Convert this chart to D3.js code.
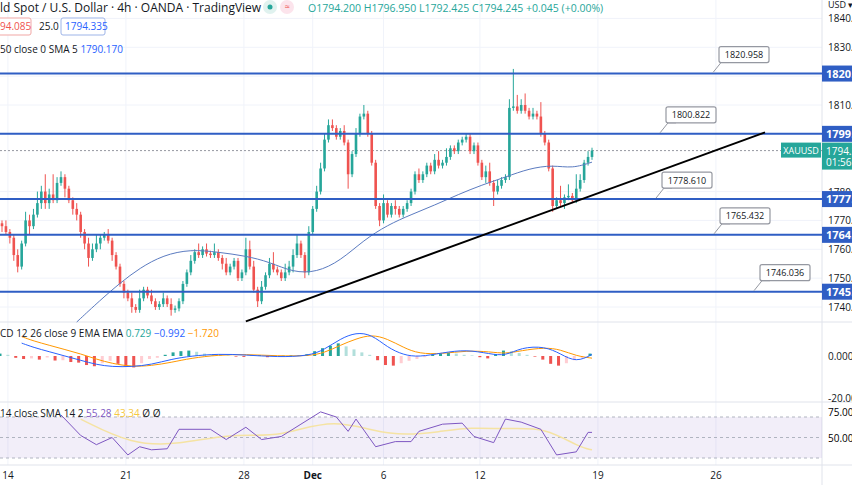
<!DOCTYPE html>
<html><head><meta charset="utf-8">
<script src="https://cdn.jsdelivr.net/npm/d3@7"></script>
<style>body{margin:0;background:#fff;font-family:"Open Sans",Roboto,sans-serif}</style>
</head><body><svg id="c" width="852" height="485"></svg>
<script>
// ---- data ----
const closes=[1768,1766,1764,1758,1754,1762,1770,1768,1772,1776,1780,1776,1779,1777,1783,1785,1781,1777,1774,1772,
1766,1762,1757,1760,1762,1764,1765,1763,1758,1754,1748,1745,1743,1740,1739,1743,1746,1744,1742,1740,
1741,1743,1741,1739,1739.5,1742,1748,1752,1756,1759,1758,1760,1758.5,1758,1759,1757,1755,1752,1754,1756,
1750,1752,1760,1754,1746,1742,1747,1751,1755,1753,1752,1750,1752,1754,1758,1762,1758,1752,1766,1774,
1780,1788,1798,1803,1802,1799,1801,1797,1786,1793,1800,1806,1807,1800,1790,1775,1770,1776,1772,1775,
1774,1772,1774,1776,1780,1786,1784,1786,1789,1787,1791,1789,1790,1792,1795,1794,1797,1798,1799,1794,
1796,1790,1785,1787,1783,1780,1782,1784,1785,1809,1809.5,1808,1810,1808,1806,1807,1806,1800,1797,1788,
1775,1777,1776,1778,1778.5,1777,1781,1784,1790,1792,1794.2];
const upWick=[1,2,1,1,2,1,3,2,2,4,2,6,2,7,2,2,1,1,1,2,1,1,2,2,3,1,1,2,1,1,1,1,1,2,1,3,1,1,2,1,
1,2,1,2,1,1,1,1,2,1,3,1,2,1,3,1,1,2,1,1,1,1,4,3,2,1,2,1,2,4,1,1,3,2,2,3,1,1,2,1,
2,2,2,2,2,1,1,2,1,1,2,1,3,1,1,1,1,3,1,1,2,1,1,1,1,1,2,1,1,1,2,3,1,3,1,1,1,1,1,1,
1,1,1,2,3,1,2,1,1,3,13,4,2,4,1,2,1,5,1,1,1,1,5,1,4,1,5,2,1,2,1];
const dnWick=[2,1,2,2,2,1,1,3,1,1,2,2,2,1,1,1,3,1,2,2,2,2,3,1,1,2,1,1,2,1,1,2,1,2,1,1,1,1,1,1,
1,1,1,2,1,1,1,1,1,1,1,1,1,1,1,1,2,1,1,1,1,1,1,1,1,2,1,1,1,1,1,1,1,1,2,1,1,2,1,1,
1,1,1,1,1,1,1,1,5,1,1,1,1,1,1,1,2,1,1,1,2,1,1,1,1,1,1,1,1,1,1,1,1,1,1,1,1,1,1,1,
1,1,1,2,1,5,1,1,1,1,1,1,1,1,1,1,1,1,1,1,2,1,1,2,1,1,1,1,1,1,1];
const smaPts=[[19,1734.8],[25,1742.4],[30,1748.3],[35,1753.5],[41,1758],[48,1760],[55,1759],[62,1757.7],[68,1755.6],[74,1752],[80,1752],[86,1756],[92,1763.2],[98,1768.4],[104,1772],[110,1775.3],[116,1779],[122,1782.3],[128,1785],[134,1788],[140,1789.2],[145,1788],[150,1790.2]];
const levels=[1820.9,1800.0,1777.4,1765.0,1745.3];
const levelLabels=["1820.958","1799.8","1777.4","1764.8","1745.3"];
const callouts=[["1820.958",1820.9,744],["1800.822",1800.0,691],["1778.610",1777.4,687],["1765.432",1765.0,745],["1746.036",1745.3,785]];
const priceTicks=[1840,1830,1810,1780,1770,1760,1750,1740];
const macd=[[5,6],[8,4],[12,2],[16,0],[20,-2],[24,-4],[28,-5],[33,-5],[38,-4],[43,-1.5],[48,0],[55,1],[62,0.5],[70,-0.5],[78,0],[82,3],[86,8],[90,11],[94,10],[98,4],[102,0.5],[106,-0.5],[112,1.5],[118,3],[124,1],[128,0],[132,4],[138,4.5],[142,1],[146,-3],[150,0.7]];
const signal=[[5,9],[8,7],[12,5],[16,3],[20,1],[24,-1.5],[28,-3.5],[33,-5],[38,-4.5],[43,-3],[48,-1],[55,0.5],[62,0.8],[70,0],[78,0],[82,1.5],[86,5],[90,8],[94,10],[98,8],[102,4],[106,1],[112,1],[118,2.5],[124,2],[128,1],[132,2.5],[138,4],[142,3],[146,0],[150,-1]];
// MACD histogram, one value every 2 bars (bars 0,2,...,150)
const hist=[0.8,0.4,-0.6,-1,-0.8,-1.2,-0.5,-1.5,-1.4,-2,-2.2,-3,-3.4,-2.4,-1.6,-2.6,-3.6,-3.8,-2.4,-1,
-0.6,0.4,1.2,1.6,1.8,1.4,0.8,0.6,0.4,0.2,-0.2,-0.3,0.2,0.3,-0.4,-0.2,0.1,0.2,0.2,0.6,
1.6,2.6,3.4,4.2,3.2,2.2,1.2,0.4,-1.4,-3,-3.2,-2.4,-1.6,-1,-0.4,0.4,0.8,1,0.8,0.4,
0.2,-0.4,-0.8,0.6,1.8,1.6,1,0.4,-0.2,-1.2,-2.6,-3.2,-2.4,-1.4,-0.6,0.8];
const rsi=[[15,72],[20,52],[24,43],[28,50],[32,33],[35,41],[38,38],[42,39],[45,58],[53,58],[57,48],[62,60],[66,48],[71,51],[76,63],[81,75],[85,70],[88,56],[90,68],[95,41],[100,46],[104,46],[106,56],[112,63],[117,64],[120,51],[125,45],[128,68],[132,65],[137,58],[141,33],[146,36],[149,55],[150,55]];
const rsiMa=[[20,68],[33,43],[45,43],[58,54],[71,50],[84,70],[99,50],[112,56],[119,60],[129,58],[138,60],[147,40],[150,38]];
const dateTicks=[["14",1.5],["21",31.5],["28",61.5],["Dec",79],["6",97],["12",121.5],["19",151.5],["26",181.5]];

// ---- layout ----
const svg=d3.select("#c");
const W=822;
const x=d3.scaleLinear().domain([0,150]).range([2,592]);
const y=d3.scaleLinear().domain([1740,1810]).range([307,105]);
const ym=d3.scaleLinear().domain([-20,0]).range([399,356]);
const yr=d3.scaleLinear().domain([30,70]).range([458,417]);
const green="#26a69a",red="#ef5350",blue="#2f5ec4";

const g=svg.append("g");
dateTicks.forEach(d=>g.append("line").attr("x1",x(d[1])).attr("x2",x(d[1])).attr("y1",0).attr("y2",465).attr("stroke","#f0f3fa"));
priceTicks.concat([1820,1800]).forEach(p=>g.append("line").attr("x1",0).attr("x2",W).attr("y1",y(p)).attr("y2",y(p)).attr("stroke","#f0f3fa"));
[322,402,465].forEach(v=>g.append("line").attr("x1",0).attr("x2",852).attr("y1",v).attr("y2",v).attr("stroke","#e0e3eb"));
g.append("line").attr("x1",W).attr("x2",W).attr("y1",0).attr("y2",485).attr("stroke","#e0e3eb");

svg.append("line").attr("x1",0).attr("x2",W).attr("y1",y(1794.2)).attr("y2",y(1794.2)).attr("stroke","#9598a1").attr("stroke-dasharray","2,2");

// price axis tick labels (drawn first, label boxes cover them)
priceTicks.forEach(p=>svg.append("text").attr("x",828).attr("y",y(p)+4).attr("font-size",10).attr("fill","#131722").text(p+".000"));
svg.append("text").attr("x",828).attr("y",8).attr("font-size",9).attr("fill","#131722").text("USD ▾");

// candles
const bars=closes.map((c,i)=>{const o=i?closes[i-1]:c+1;return {i,o,c,h:Math.max(o,c)+upWick[i],l:Math.min(o,c)-dnWick[i]};});
const cg=svg.append("g");
cg.selectAll("line").data(bars).join("line").attr("x1",d=>x(d.i)).attr("x2",d=>x(d.i)).attr("y1",d=>y(d.h)).attr("y2",d=>y(d.l)).attr("stroke",d=>d.c>=d.o?green:red);
cg.selectAll("rect").data(bars).join("rect").attr("x",d=>x(d.i)-1.3).attr("width",2.6).attr("y",d=>y(Math.max(d.o,d.c))).attr("height",d=>Math.max(1,Math.abs(y(d.o)-y(d.c)))).attr("fill",d=>d.c>=d.o?green:red);

svg.append("path").datum(smaPts).attr("d",d3.line().x(d=>x(d[0])).y(d=>y(d[1])).curve(d3.curveBasis)).attr("fill","none").attr("stroke","#5b7bc0").attr("stroke-width",1);

levels.forEach((p,k)=>{
  svg.append("line").attr("x1",0).attr("x2",W).attr("y1",y(p)).attr("y2",y(p)).attr("stroke",blue).attr("stroke-width",2);
  svg.append("rect").attr("x",W).attr("y",y(p)-8).attr("width",40).attr("height",16).attr("fill",blue);
  svg.append("text").attr("x",826).attr("y",y(p)+4).attr("fill","#fff").attr("font-size",11).attr("font-weight","bold").text(levelLabels[k]);
});
svg.append("line").attr("x1",x(62)).attr("y1",y(1735)).attr("x2",765).attr("y2",y(1800.5)).attr("stroke","#000").attr("stroke-width",2);

callouts.forEach(([t,p,cx])=>{
  const py=y(p), by=py-27, px=cx-31;
  svg.append("path").attr("d",`M${px},${py-1} L${px+8},${by+16} L${px+16},${by+16}`).attr("fill","#fff").attr("stroke","#9598a1");
  svg.append("rect").attr("x",cx-25).attr("y",by).attr("width",50).attr("height",16).attr("rx",2).attr("fill","#fff").attr("stroke","#9598a1").attr("stroke-width",1.2);
  svg.append("text").attr("x",cx).attr("y",by+11.5).attr("text-anchor","middle").attr("font-size",9).attr("fill","#131722").text(t);
});

svg.append("rect").attr("x",781).attr("y",y(1794.2)-8).attr("width",40).attr("height",15).attr("fill",green);
svg.append("text").attr("x",801).attr("y",y(1794.2)+3.5).attr("text-anchor","middle").attr("font-size",9).attr("fill","#fff").text("XAUUSD");
svg.append("rect").attr("x",W).attr("y",y(1794.2)-8).attr("width",40).attr("height",27).attr("fill",green);
svg.append("text").attr("x",826).attr("y",y(1794.2)+4).attr("font-size",10).attr("fill","#fff").text("1794.245");
svg.append("text").attr("x",826).attr("y",y(1794.2)+15).attr("font-size",10).attr("fill","#fff").text("01:56:12");

// MACD
svg.append("g").selectAll("rect").data(hist).join("rect")
 .attr("x",(d,k)=>x(k*2)-3.5).attr("width",3)
 .attr("y",d=>Math.min(ym(0),ym(d*1.4))).attr("height",d=>Math.abs(ym(d*1.4)-ym(0)))
 .attr("fill",(d,k)=>{const p=k?hist[k-1]:d;return d>=0?(d>=p?"#26a69a":"#b2dfdb"):(d<=p?"#ef5350":"#ffcdd2");});
svg.append("path").datum(signal).attr("d",d3.line().x(d=>x(d[0])).y(d=>ym(d[1])).curve(d3.curveBasis)).attr("fill","none").attr("stroke","#ff9800");
svg.append("path").datum(macd).attr("d",d3.line().x(d=>x(d[0])).y(d=>ym(d[1])).curve(d3.curveBasis)).attr("fill","none").attr("stroke","#2962ff");
svg.append("text").attr("x",828).attr("y",ym(0)+4).attr("font-size",10).attr("fill","#131722").text("0.000");
svg.append("text").attr("x",828).attr("y",ym(-20)+3).attr("font-size",10).attr("fill","#131722").text("-20.000");
const mt=svg.append("text").attr("x",0).attr("y",337).attr("font-size",10);
mt.append("tspan").attr("fill","#131722").text("CD 12 26 close 9 EMA EMA  ");
mt.append("tspan").attr("fill",green).text("0.729  ");
mt.append("tspan").attr("fill","#2962ff").text("−0.992  ");
mt.append("tspan").attr("fill","#ff9800").text("−1.720");

// RSI
svg.append("rect").attr("x",0).attr("y",yr(70)).attr("width",W).attr("height",yr(30)-yr(70)).attr("fill","#7e57c2").attr("opacity",0.1);
[70,50,30].forEach(v=>svg.append("line").attr("x1",0).attr("x2",W).attr("y1",yr(v)).attr("y2",yr(v)).attr("stroke","#b0b4c0").attr("stroke-dasharray","3,3"));
svg.append("path").datum(rsiMa).attr("d",d3.line().x(d=>x(d[0])).y(d=>yr(d[1])).curve(d3.curveBasis)).attr("fill","none").attr("stroke","#f5e3a3").attr("stroke-width",1.5);
svg.append("path").datum(rsi).attr("d",d3.line().x(d=>x(d[0])).y(d=>yr(d[1]))).attr("fill","none").attr("stroke","#7e57c2");
svg.append("text").attr("x",828).attr("y",yr(75)+4).attr("font-size",10).text("75.000");
svg.append("text").attr("x",828).attr("y",yr(50)+4).attr("font-size",10).text("50.000");
const rt=svg.append("text").attr("x",0).attr("y",417).attr("font-size",10);
rt.append("tspan").attr("fill","#131722").text("14 close SMA 14 2  ");
rt.append("tspan").attr("fill","#7e57c2").text("55.28  ");
rt.append("tspan").attr("fill","#f5c842").text("43.34  ");
rt.append("tspan").attr("fill","#131722").text("Ø  Ø");

dateTicks.forEach(d=>svg.append("text").attr("x",x(d[1])).attr("y",479).attr("text-anchor","middle").attr("font-size",10).attr("font-weight",d[0]=="Dec"?"bold":"normal").attr("fill","#131722").text(d[0]));

// header
svg.append("text").attr("x",0).attr("y",12).attr("font-size",12).attr("fill","#131722").text("ld Spot / U.S. Dollar · 4h · OANDA · TradingView");
svg.append("circle").attr("cx",270).attr("cy",7).attr("r",7).attr("fill","#e0f2ef");
svg.append("circle").attr("cx",270).attr("cy",7).attr("r",2.5).attr("fill",green);
svg.append("circle").attr("cx",287).attr("cy",7).attr("r",7).attr("fill","#fce4ec");
svg.append("text").attr("x",287).attr("y",10).attr("text-anchor","middle").attr("font-size",9).attr("fill",red).text("≈");
svg.append("text").attr("x",308).attr("y",12).attr("font-size",10.5).attr("fill",green).text("O1794.200 H1796.950 L1792.425 C1794.245 +0.045 (+0.00%)");
svg.append("rect").attr("x",-3).attr("y",18).attr("width",34).attr("height",17).attr("rx",2).attr("fill","#fff").attr("stroke","#f1a7a5");
svg.append("text").attr("x",0).attr("y",30).attr("font-size",10).attr("fill",red).text("94.085");
svg.append("text").attr("x",39).attr("y",30).attr("font-size",10).attr("fill","#131722").text("25.0");
svg.append("rect").attr("x",61).attr("y",18).attr("width",44).attr("height",17).attr("rx",2).attr("fill","#fff").attr("stroke","#9db4e8");
svg.append("text").attr("x",65).attr("y",30).attr("font-size",10).attr("fill","#2962ff").text("1794.335");
const st=svg.append("text").attr("x",0).attr("y",53).attr("font-size",10);
st.append("tspan").attr("fill","#131722").text("50 close 0 SMA 5   ");
st.append("tspan").attr("fill","#2962ff").text("1790.170");
</script></body></html>
